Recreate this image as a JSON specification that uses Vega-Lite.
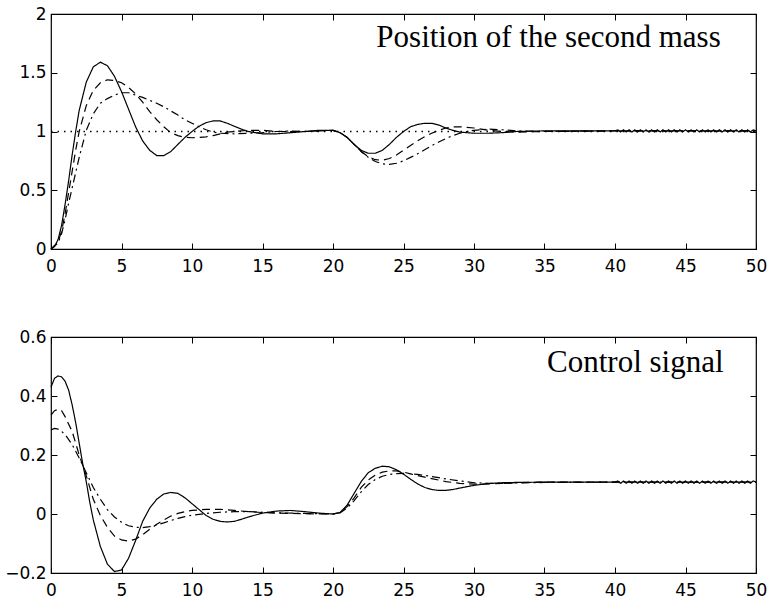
{
  "$schema": "https://vega.github.io/schema/vega-lite/v6.json",
  "autosize": {"type": "pad"},
  "padding": {"left": 4, "top": 4, "right": 3, "bottom": 5},
  "background": "white",
  "spacing": 88,
  "bounds": "flush",
  "config": {
    "view": {"stroke": "black", "strokeWidth": 1.2},
    "axis": {"domain": false, "grid": false, "ticks": true, "tickColor": "black", "tickWidth": 1, "tickSize": -6, "labelFont": "DejaVu Sans", "labelFontSize": 17, "labelColor": "black", "labelFlush": false, "labelOverlap": false},
    "axisX": {"labelPadding": 15},
    "axisY": {"labelPadding": 11},
    "line": {"color": "black", "strokeWidth": 1.2}
  },
  "datasets": {
    "pos": [
      {"t":0,"v":0,"s":"solid"},{"t":0.25,"v":0.02,"s":"solid"},{"t":0.5,"v":0.08,"s":"solid"},{"t":0.75,"v":0.2,"s":"solid"},{"t":1,"v":0.38,"s":"solid"},{"t":1.25,"v":0.58,"s":"solid"},{"t":1.5,"v":0.8,"s":"solid"},{"t":1.75,"v":1.0,"s":"solid"},{"t":2,"v":1.18,"s":"solid"},{"t":2.5,"v":1.42,"s":"solid"},{"t":3,"v":1.55,"s":"solid"},{"t":3.5,"v":1.59,"s":"solid"},{"t":4,"v":1.56,"s":"solid"},{"t":4.5,"v":1.47,"s":"solid"},{"t":5,"v":1.34,"s":"solid"},{"t":5.5,"v":1.19,"s":"solid"},{"t":6,"v":1.04,"s":"solid"},{"t":6.5,"v":0.92,"s":"solid"},{"t":7,"v":0.84,"s":"solid"},{"t":7.5,"v":0.795,"s":"solid"},{"t":8,"v":0.795,"s":"solid"},{"t":8.5,"v":0.83,"s":"solid"},{"t":9,"v":0.89,"s":"solid"},{"t":9.5,"v":0.95,"s":"solid"},{"t":10,"v":1.0,"s":"solid"},{"t":10.5,"v":1.045,"s":"solid"},{"t":11,"v":1.075,"s":"solid"},{"t":11.5,"v":1.09,"s":"solid"},{"t":12,"v":1.09,"s":"solid"},{"t":12.5,"v":1.07,"s":"solid"},{"t":13,"v":1.045,"s":"solid"},{"t":13.5,"v":1.02,"s":"solid"},{"t":14,"v":1.0,"s":"solid"},{"t":14.5,"v":0.99,"s":"solid"},{"t":15,"v":0.98,"s":"solid"},{"t":16,"v":0.98,"s":"solid"},{"t":17,"v":0.99,"s":"solid"},{"t":18,"v":1.0,"s":"solid"},{"t":19,"v":1.01,"s":"solid"},{"t":20,"v":1.01,"s":"solid"},{"t":20.5,"v":0.99,"s":"solid"},{"t":21,"v":0.95,"s":"solid"},{"t":21.5,"v":0.89,"s":"solid"},{"t":22,"v":0.84,"s":"solid"},{"t":22.5,"v":0.815,"s":"solid"},{"t":23,"v":0.815,"s":"solid"},{"t":23.5,"v":0.84,"s":"solid"},{"t":24,"v":0.89,"s":"solid"},{"t":24.5,"v":0.95,"s":"solid"},{"t":25,"v":1.0,"s":"solid"},{"t":25.5,"v":1.04,"s":"solid"},{"t":26,"v":1.06,"s":"solid"},{"t":26.5,"v":1.07,"s":"solid"},{"t":27,"v":1.07,"s":"solid"},{"t":27.5,"v":1.055,"s":"solid"},{"t":28,"v":1.03,"s":"solid"},{"t":28.5,"v":1.01,"s":"solid"},{"t":29,"v":0.995,"s":"solid"},{"t":30,"v":0.985,"s":"solid"},{"t":31,"v":0.985,"s":"solid"},{"t":32,"v":0.99,"s":"solid"},{"t":33,"v":1.0,"s":"solid"},{"t":35,"v":1.005,"s":"solid"},{"t":40,"v":1.005,"s":"solid"},
      {"t":40.2,"v":1.014,"s":"solid"},{"t":40.4,"v":0.996,"s":"solid"},{"t":40.6,"v":1.014,"s":"solid"},{"t":40.8,"v":0.996,"s":"solid"},{"t":41,"v":1.014,"s":"solid"},{"t":41.2,"v":0.996,"s":"solid"},{"t":41.4,"v":1.014,"s":"solid"},{"t":41.6,"v":0.996,"s":"solid"},{"t":41.8,"v":1.014,"s":"solid"},{"t":42,"v":0.996,"s":"solid"},{"t":42.2,"v":1.014,"s":"solid"},{"t":42.4,"v":0.996,"s":"solid"},{"t":42.6,"v":1.014,"s":"solid"},{"t":42.8,"v":0.996,"s":"solid"},{"t":43,"v":1.014,"s":"solid"},{"t":43.2,"v":0.996,"s":"solid"},{"t":43.4,"v":1.014,"s":"solid"},{"t":43.6,"v":0.996,"s":"solid"},{"t":43.8,"v":1.014,"s":"solid"},{"t":44,"v":0.996,"s":"solid"},{"t":44.2,"v":1.014,"s":"solid"},{"t":44.4,"v":0.996,"s":"solid"},{"t":44.6,"v":1.014,"s":"solid"},{"t":44.8,"v":0.996,"s":"solid"},{"t":45,"v":1.014,"s":"solid"},{"t":45.2,"v":0.996,"s":"solid"},{"t":45.4,"v":1.014,"s":"solid"},{"t":45.6,"v":0.996,"s":"solid"},{"t":45.8,"v":1.014,"s":"solid"},{"t":46,"v":0.996,"s":"solid"},{"t":46.2,"v":1.014,"s":"solid"},{"t":46.4,"v":0.996,"s":"solid"},{"t":46.6,"v":1.014,"s":"solid"},{"t":46.8,"v":0.996,"s":"solid"},{"t":47,"v":1.014,"s":"solid"},{"t":47.2,"v":0.996,"s":"solid"},{"t":47.4,"v":1.014,"s":"solid"},{"t":47.6,"v":0.996,"s":"solid"},{"t":47.8,"v":1.014,"s":"solid"},{"t":48,"v":0.996,"s":"solid"},{"t":48.2,"v":1.014,"s":"solid"},{"t":48.4,"v":0.996,"s":"solid"},{"t":48.6,"v":1.014,"s":"solid"},{"t":48.8,"v":0.996,"s":"solid"},{"t":49,"v":1.014,"s":"solid"},{"t":49.2,"v":0.996,"s":"solid"},{"t":49.4,"v":1.014,"s":"solid"},{"t":49.6,"v":0.996,"s":"solid"},{"t":49.8,"v":1.014,"s":"solid"},{"t":50,"v":1.005,"s":"solid"},
      {"t":0,"v":0,"s":"dashed"},{"t":0.5,"v":0.06,"s":"dashed"},{"t":0.75,"v":0.15,"s":"dashed"},{"t":1,"v":0.3,"s":"dashed"},{"t":1.25,"v":0.48,"s":"dashed"},{"t":1.5,"v":0.66,"s":"dashed"},{"t":1.75,"v":0.84,"s":"dashed"},{"t":2,"v":1.0,"s":"dashed"},{"t":2.5,"v":1.22,"s":"dashed"},{"t":3,"v":1.35,"s":"dashed"},{"t":3.5,"v":1.415,"s":"dashed"},{"t":4,"v":1.44,"s":"dashed"},{"t":4.5,"v":1.435,"s":"dashed"},{"t":5,"v":1.415,"s":"dashed"},{"t":5.5,"v":1.375,"s":"dashed"},{"t":6,"v":1.32,"s":"dashed"},{"t":6.5,"v":1.25,"s":"dashed"},{"t":7,"v":1.17,"s":"dashed"},{"t":7.5,"v":1.1,"s":"dashed"},{"t":8,"v":1.04,"s":"dashed"},{"t":8.5,"v":0.99,"s":"dashed"},{"t":9,"v":0.965,"s":"dashed"},{"t":9.5,"v":0.95,"s":"dashed"},{"t":10,"v":0.947,"s":"dashed"},{"t":10.5,"v":0.95,"s":"dashed"},{"t":11,"v":0.955,"s":"dashed"},{"t":11.5,"v":0.965,"s":"dashed"},{"t":12,"v":0.98,"s":"dashed"},{"t":12.5,"v":0.995,"s":"dashed"},{"t":13,"v":1.0,"s":"dashed"},{"t":14,"v":1.01,"s":"dashed"},{"t":15,"v":1.01,"s":"dashed"},{"t":16,"v":1.0,"s":"dashed"},{"t":18,"v":1.0,"s":"dashed"},{"t":20,"v":1.01,"s":"dashed"},{"t":20.5,"v":0.99,"s":"dashed"},{"t":21,"v":0.95,"s":"dashed"},{"t":21.5,"v":0.89,"s":"dashed"},{"t":22,"v":0.83,"s":"dashed"},{"t":22.5,"v":0.785,"s":"dashed"},{"t":23,"v":0.76,"s":"dashed"},{"t":23.5,"v":0.755,"s":"dashed"},{"t":24,"v":0.77,"s":"dashed"},{"t":24.5,"v":0.8,"s":"dashed"},{"t":25,"v":0.84,"s":"dashed"},{"t":25.5,"v":0.88,"s":"dashed"},{"t":26,"v":0.92,"s":"dashed"},{"t":26.5,"v":0.955,"s":"dashed"},{"t":27,"v":0.985,"s":"dashed"},{"t":27.5,"v":1.01,"s":"dashed"},{"t":28,"v":1.03,"s":"dashed"},{"t":28.5,"v":1.04,"s":"dashed"},{"t":29,"v":1.04,"s":"dashed"},{"t":30,"v":1.03,"s":"dashed"},{"t":31,"v":1.01,"s":"dashed"},{"t":32,"v":1.0,"s":"dashed"},{"t":33,"v":0.995,"s":"dashed"},{"t":35,"v":1.0,"s":"dashed"},{"t":40,"v":1.005,"s":"dashed"},{"t":50,"v":1.005,"s":"dashed"},
      {"t":0,"v":0,"s":"dashdot"},{"t":0.5,"v":0.05,"s":"dashdot"},{"t":0.75,"v":0.13,"s":"dashdot"},{"t":1,"v":0.25,"s":"dashdot"},{"t":1.25,"v":0.39,"s":"dashdot"},{"t":1.5,"v":0.52,"s":"dashdot"},{"t":1.75,"v":0.65,"s":"dashdot"},{"t":2,"v":0.78,"s":"dashdot"},{"t":2.5,"v":1.01,"s":"dashdot"},{"t":3,"v":1.15,"s":"dashdot"},{"t":3.5,"v":1.24,"s":"dashdot"},{"t":4,"v":1.28,"s":"dashdot"},{"t":4.5,"v":1.31,"s":"dashdot"},{"t":5,"v":1.33,"s":"dashdot"},{"t":5.5,"v":1.33,"s":"dashdot"},{"t":6,"v":1.31,"s":"dashdot"},{"t":6.5,"v":1.29,"s":"dashdot"},{"t":7,"v":1.265,"s":"dashdot"},{"t":7.5,"v":1.24,"s":"dashdot"},{"t":8,"v":1.21,"s":"dashdot"},{"t":8.5,"v":1.175,"s":"dashdot"},{"t":9,"v":1.14,"s":"dashdot"},{"t":9.5,"v":1.1,"s":"dashdot"},{"t":10,"v":1.07,"s":"dashdot"},{"t":10.5,"v":1.04,"s":"dashdot"},{"t":11,"v":1.015,"s":"dashdot"},{"t":11.5,"v":0.995,"s":"dashdot"},{"t":12,"v":0.985,"s":"dashdot"},{"t":13,"v":0.98,"s":"dashdot"},{"t":14,"v":0.985,"s":"dashdot"},{"t":15,"v":0.99,"s":"dashdot"},{"t":16,"v":1.0,"s":"dashdot"},{"t":17,"v":1.005,"s":"dashdot"},{"t":18,"v":1.0,"s":"dashdot"},{"t":20,"v":1.01,"s":"dashdot"},{"t":20.5,"v":0.99,"s":"dashdot"},{"t":21,"v":0.95,"s":"dashdot"},{"t":21.5,"v":0.89,"s":"dashdot"},{"t":22,"v":0.83,"s":"dashdot"},{"t":22.5,"v":0.78,"s":"dashdot"},{"t":23,"v":0.745,"s":"dashdot"},{"t":23.5,"v":0.725,"s":"dashdot"},{"t":24,"v":0.72,"s":"dashdot"},{"t":24.5,"v":0.73,"s":"dashdot"},{"t":25,"v":0.75,"s":"dashdot"},{"t":25.5,"v":0.78,"s":"dashdot"},{"t":26,"v":0.81,"s":"dashdot"},{"t":26.5,"v":0.845,"s":"dashdot"},{"t":27,"v":0.88,"s":"dashdot"},{"t":27.5,"v":0.91,"s":"dashdot"},{"t":28,"v":0.94,"s":"dashdot"},{"t":28.5,"v":0.965,"s":"dashdot"},{"t":29,"v":0.985,"s":"dashdot"},{"t":29.5,"v":1.0,"s":"dashdot"},{"t":30,"v":1.01,"s":"dashdot"},{"t":31,"v":1.02,"s":"dashdot"},{"t":32,"v":1.015,"s":"dashdot"},{"t":33,"v":1.005,"s":"dashdot"},{"t":35,"v":1.0,"s":"dashdot"},{"t":40,"v":1.005,"s":"dashdot"},{"t":50,"v":1.005,"s":"dashdot"}
    ],
    "ctrl": [
      {"t":0,"v":0.43,"s":"solid"},{"t":0.25,"v":0.46,"s":"solid"},{"t":0.5,"v":0.468,"s":"solid"},{"t":0.75,"v":0.465,"s":"solid"},{"t":1,"v":0.45,"s":"solid"},{"t":1.25,"v":0.42,"s":"solid"},{"t":1.5,"v":0.37,"s":"solid"},{"t":1.75,"v":0.31,"s":"solid"},{"t":2,"v":0.24,"s":"solid"},{"t":2.25,"v":0.17,"s":"solid"},{"t":2.5,"v":0.11,"s":"solid"},{"t":2.75,"v":0.04,"s":"solid"},{"t":3,"v":-0.02,"s":"solid"},{"t":3.5,"v":-0.11,"s":"solid"},{"t":4,"v":-0.17,"s":"solid"},{"t":4.5,"v":-0.195,"s":"solid"},{"t":5,"v":-0.19,"s":"solid"},{"t":5.5,"v":-0.15,"s":"solid"},{"t":6,"v":-0.09,"s":"solid"},{"t":6.5,"v":-0.025,"s":"solid"},{"t":7,"v":0.02,"s":"solid"},{"t":7.5,"v":0.05,"s":"solid"},{"t":8,"v":0.068,"s":"solid"},{"t":8.5,"v":0.073,"s":"solid"},{"t":9,"v":0.07,"s":"solid"},{"t":9.5,"v":0.055,"s":"solid"},{"t":10,"v":0.035,"s":"solid"},{"t":10.5,"v":0.015,"s":"solid"},{"t":11,"v":-0.005,"s":"solid"},{"t":11.5,"v":-0.018,"s":"solid"},{"t":12,"v":-0.025,"s":"solid"},{"t":12.5,"v":-0.027,"s":"solid"},{"t":13,"v":-0.025,"s":"solid"},{"t":13.5,"v":-0.018,"s":"solid"},{"t":14,"v":-0.01,"s":"solid"},{"t":15,"v":0.003,"s":"solid"},{"t":16,"v":0.01,"s":"solid"},{"t":17,"v":0.012,"s":"solid"},{"t":18,"v":0.008,"s":"solid"},{"t":19,"v":0.003,"s":"solid"},{"t":20,"v":0.0,"s":"solid"},{"t":20.5,"v":0.005,"s":"solid"},{"t":21,"v":0.03,"s":"solid"},{"t":21.5,"v":0.07,"s":"solid"},{"t":22,"v":0.11,"s":"solid"},{"t":22.5,"v":0.14,"s":"solid"},{"t":23,"v":0.155,"s":"solid"},{"t":23.5,"v":0.162,"s":"solid"},{"t":24,"v":0.16,"s":"solid"},{"t":24.5,"v":0.15,"s":"solid"},{"t":25,"v":0.135,"s":"solid"},{"t":25.5,"v":0.118,"s":"solid"},{"t":26,"v":0.102,"s":"solid"},{"t":26.5,"v":0.09,"s":"solid"},{"t":27,"v":0.083,"s":"solid"},{"t":27.5,"v":0.08,"s":"solid"},{"t":28,"v":0.08,"s":"solid"},{"t":28.5,"v":0.083,"s":"solid"},{"t":29,"v":0.088,"s":"solid"},{"t":30,"v":0.097,"s":"solid"},{"t":31,"v":0.103,"s":"solid"},{"t":32,"v":0.106,"s":"solid"},{"t":33,"v":0.107,"s":"solid"},{"t":35,"v":0.108,"s":"solid"},{"t":40,"v":0.108,"s":"solid"},
      {"t":40.2,"v":0.112,"s":"solid"},{"t":40.4,"v":0.104,"s":"solid"},{"t":40.6,"v":0.112,"s":"solid"},{"t":40.8,"v":0.104,"s":"solid"},{"t":41,"v":0.112,"s":"solid"},{"t":41.2,"v":0.104,"s":"solid"},{"t":41.4,"v":0.112,"s":"solid"},{"t":41.6,"v":0.104,"s":"solid"},{"t":41.8,"v":0.112,"s":"solid"},{"t":42,"v":0.104,"s":"solid"},{"t":42.2,"v":0.112,"s":"solid"},{"t":42.4,"v":0.104,"s":"solid"},{"t":42.6,"v":0.112,"s":"solid"},{"t":42.8,"v":0.104,"s":"solid"},{"t":43,"v":0.112,"s":"solid"},{"t":43.2,"v":0.104,"s":"solid"},{"t":43.4,"v":0.112,"s":"solid"},{"t":43.6,"v":0.104,"s":"solid"},{"t":43.8,"v":0.112,"s":"solid"},{"t":44,"v":0.104,"s":"solid"},{"t":44.2,"v":0.112,"s":"solid"},{"t":44.4,"v":0.104,"s":"solid"},{"t":44.6,"v":0.112,"s":"solid"},{"t":44.8,"v":0.104,"s":"solid"},{"t":45,"v":0.112,"s":"solid"},{"t":45.2,"v":0.104,"s":"solid"},{"t":45.4,"v":0.112,"s":"solid"},{"t":45.6,"v":0.104,"s":"solid"},{"t":45.8,"v":0.112,"s":"solid"},{"t":46,"v":0.104,"s":"solid"},{"t":46.2,"v":0.112,"s":"solid"},{"t":46.4,"v":0.104,"s":"solid"},{"t":46.6,"v":0.112,"s":"solid"},{"t":46.8,"v":0.104,"s":"solid"},{"t":47,"v":0.112,"s":"solid"},{"t":47.2,"v":0.104,"s":"solid"},{"t":47.4,"v":0.112,"s":"solid"},{"t":47.6,"v":0.104,"s":"solid"},{"t":47.8,"v":0.112,"s":"solid"},{"t":48,"v":0.104,"s":"solid"},{"t":48.2,"v":0.112,"s":"solid"},{"t":48.4,"v":0.104,"s":"solid"},{"t":48.6,"v":0.112,"s":"solid"},{"t":48.8,"v":0.104,"s":"solid"},{"t":49,"v":0.112,"s":"solid"},{"t":49.2,"v":0.104,"s":"solid"},{"t":49.4,"v":0.112,"s":"solid"},{"t":49.6,"v":0.104,"s":"solid"},{"t":49.8,"v":0.112,"s":"solid"},{"t":50,"v":0.108,"s":"solid"},
      {"t":0,"v":0.335,"s":"dashed"},{"t":0.25,"v":0.35,"s":"dashed"},{"t":0.5,"v":0.355,"s":"dashed"},{"t":0.75,"v":0.35,"s":"dashed"},{"t":1,"v":0.33,"s":"dashed"},{"t":1.5,"v":0.28,"s":"dashed"},{"t":2,"v":0.2,"s":"dashed"},{"t":2.5,"v":0.13,"s":"dashed"},{"t":3,"v":0.05,"s":"dashed"},{"t":3.5,"v":-0.005,"s":"dashed"},{"t":4,"v":-0.045,"s":"dashed"},{"t":4.5,"v":-0.075,"s":"dashed"},{"t":5,"v":-0.088,"s":"dashed"},{"t":5.5,"v":-0.092,"s":"dashed"},{"t":6,"v":-0.085,"s":"dashed"},{"t":6.5,"v":-0.07,"s":"dashed"},{"t":7,"v":-0.052,"s":"dashed"},{"t":7.5,"v":-0.035,"s":"dashed"},{"t":8,"v":-0.02,"s":"dashed"},{"t":8.5,"v":-0.007,"s":"dashed"},{"t":9,"v":0.002,"s":"dashed"},{"t":9.5,"v":0.008,"s":"dashed"},{"t":10,"v":0.012,"s":"dashed"},{"t":11,"v":0.016,"s":"dashed"},{"t":12,"v":0.016,"s":"dashed"},{"t":13,"v":0.012,"s":"dashed"},{"t":14,"v":0.008,"s":"dashed"},{"t":15,"v":0.005,"s":"dashed"},{"t":16,"v":0.003,"s":"dashed"},{"t":18,"v":0.001,"s":"dashed"},{"t":20,"v":0.0,"s":"dashed"},{"t":20.5,"v":0.005,"s":"dashed"},{"t":21,"v":0.025,"s":"dashed"},{"t":21.5,"v":0.055,"s":"dashed"},{"t":22,"v":0.09,"s":"dashed"},{"t":22.5,"v":0.115,"s":"dashed"},{"t":23,"v":0.132,"s":"dashed"},{"t":23.5,"v":0.142,"s":"dashed"},{"t":24,"v":0.146,"s":"dashed"},{"t":24.5,"v":0.146,"s":"dashed"},{"t":25,"v":0.142,"s":"dashed"},{"t":25.5,"v":0.136,"s":"dashed"},{"t":26,"v":0.13,"s":"dashed"},{"t":26.5,"v":0.125,"s":"dashed"},{"t":27,"v":0.12,"s":"dashed"},{"t":27.5,"v":0.115,"s":"dashed"},{"t":28,"v":0.11,"s":"dashed"},{"t":29,"v":0.104,"s":"dashed"},{"t":30,"v":0.101,"s":"dashed"},{"t":31,"v":0.102,"s":"dashed"},{"t":32,"v":0.104,"s":"dashed"},{"t":33,"v":0.106,"s":"dashed"},{"t":35,"v":0.108,"s":"dashed"},{"t":40,"v":0.108,"s":"dashed"},{"t":50,"v":0.108,"s":"dashed"},
      {"t":0,"v":0.285,"s":"dashdot"},{"t":0.25,"v":0.29,"s":"dashdot"},{"t":0.5,"v":0.288,"s":"dashdot"},{"t":0.75,"v":0.28,"s":"dashdot"},{"t":1,"v":0.27,"s":"dashdot"},{"t":1.5,"v":0.235,"s":"dashdot"},{"t":2,"v":0.19,"s":"dashdot"},{"t":2.5,"v":0.14,"s":"dashdot"},{"t":3,"v":0.09,"s":"dashdot"},{"t":3.5,"v":0.05,"s":"dashdot"},{"t":4,"v":0.015,"s":"dashdot"},{"t":4.5,"v":-0.01,"s":"dashdot"},{"t":5,"v":-0.028,"s":"dashdot"},{"t":5.5,"v":-0.04,"s":"dashdot"},{"t":6,"v":-0.045,"s":"dashdot"},{"t":6.5,"v":-0.046,"s":"dashdot"},{"t":7,"v":-0.043,"s":"dashdot"},{"t":7.5,"v":-0.037,"s":"dashdot"},{"t":8,"v":-0.03,"s":"dashdot"},{"t":8.5,"v":-0.022,"s":"dashdot"},{"t":9,"v":-0.015,"s":"dashdot"},{"t":9.5,"v":-0.009,"s":"dashdot"},{"t":10,"v":-0.004,"s":"dashdot"},{"t":11,"v":0.002,"s":"dashdot"},{"t":12,"v":0.006,"s":"dashdot"},{"t":13,"v":0.008,"s":"dashdot"},{"t":14,"v":0.008,"s":"dashdot"},{"t":15,"v":0.006,"s":"dashdot"},{"t":16,"v":0.004,"s":"dashdot"},{"t":18,"v":0.002,"s":"dashdot"},{"t":20,"v":0.0,"s":"dashdot"},{"t":20.5,"v":0.004,"s":"dashdot"},{"t":21,"v":0.02,"s":"dashdot"},{"t":21.5,"v":0.045,"s":"dashdot"},{"t":22,"v":0.075,"s":"dashdot"},{"t":22.5,"v":0.1,"s":"dashdot"},{"t":23,"v":0.117,"s":"dashdot"},{"t":23.5,"v":0.128,"s":"dashdot"},{"t":24,"v":0.134,"s":"dashdot"},{"t":24.5,"v":0.137,"s":"dashdot"},{"t":25,"v":0.138,"s":"dashdot"},{"t":25.5,"v":0.137,"s":"dashdot"},{"t":26,"v":0.134,"s":"dashdot"},{"t":26.5,"v":0.131,"s":"dashdot"},{"t":27,"v":0.127,"s":"dashdot"},{"t":27.5,"v":0.123,"s":"dashdot"},{"t":28,"v":0.119,"s":"dashdot"},{"t":29,"v":0.112,"s":"dashdot"},{"t":30,"v":0.106,"s":"dashdot"},{"t":31,"v":0.104,"s":"dashdot"},{"t":32,"v":0.104,"s":"dashdot"},{"t":33,"v":0.105,"s":"dashdot"},{"t":35,"v":0.107,"s":"dashdot"},{"t":40,"v":0.108,"s":"dashdot"},{"t":50,"v":0.108,"s":"dashdot"}
    ],
    "ref": [{"t":0,"v":1},{"t":50,"v":1}],
    "note1": [{"label":"Position of the second mass"}],
    "note2": [{"label":"Control signal"}]
  },
  "vconcat": [
    {
      "width": 705,
      "height": 235,
      "resolve": {"axis": {"x": "independent", "y": "independent"}},
      "layer": [
        {
          "data": {"name": "ref"},
          "mark": {"type": "line", "strokeDash": [1.5, 5], "strokeWidth": 1.3, "color": "black"},
          "encoding": {
            "x": {"field": "t", "type": "quantitative", "scale": {"domain": [0, 50], "nice": false, "zero": false}, "axis": null},
            "y": {"field": "v", "type": "quantitative", "scale": {"domain": [0, 2], "nice": false, "zero": false}, "axis": null}
          }
        },
        {
          "data": {"name": "pos"},
          "mark": {"type": "line", "color": "black", "strokeWidth": 1.2},
          "encoding": {
            "x": {"field": "t", "type": "quantitative", "title": null, "axis": {"orient": "bottom", "values": [0,5,10,15,20,25,30,35,40,45,50]}},
            "y": {"field": "v", "type": "quantitative", "title": null, "axis": {"orient": "left", "values": [0,0.5,1,1.5,2], "format": "~g"}},
            "strokeDash": {"field": "s", "type": "nominal", "scale": {"domain": ["solid","dashed","dashdot"], "range": [[1,0],[8,5],[8,4,2,4]]}, "legend": null}
          }
        },
        {
          "data": {"name": "note1"},
          "mark": {"type": "text", "font": "Liberation Serif", "fontSize": 31, "align": "right", "baseline": "alphabetic", "color": "black"},
          "encoding": {
            "x": {"datum": 47.5, "type": "quantitative", "title": null, "axis": {"orient": "top", "labels": false, "values": [0,5,10,15,20,25,30,35,40,45,50]}},
            "y": {"datum": 1.72, "type": "quantitative", "title": null, "axis": {"orient": "right", "labels": false, "values": [0,0.5,1,1.5,2]}},
            "text": {"field": "label"}
          }
        }
      ]
    },
    {
      "width": 705,
      "height": 236,
      "resolve": {"axis": {"x": "independent", "y": "independent"}},
      "layer": [
        {
          "data": {"name": "ctrl"},
          "mark": {"type": "line", "color": "black", "strokeWidth": 1.2},
          "encoding": {
            "x": {"field": "t", "type": "quantitative", "title": null, "scale": {"domain": [0, 50], "nice": false, "zero": false}, "axis": {"orient": "bottom", "values": [0,5,10,15,20,25,30,35,40,45,50]}},
            "y": {"field": "v", "type": "quantitative", "title": null, "scale": {"domain": [-0.2, 0.6], "nice": false, "zero": false}, "axis": {"orient": "left", "values": [-0.2,0,0.2,0.4,0.6], "format": "~g"}},
            "strokeDash": {"field": "s", "type": "nominal", "scale": {"domain": ["solid","dashed","dashdot"], "range": [[1,0],[8,5],[8,4,2,4]]}, "legend": null}
          }
        },
        {
          "data": {"name": "note2"},
          "mark": {"type": "text", "font": "Liberation Serif", "fontSize": 31, "align": "right", "baseline": "alphabetic", "color": "black"},
          "encoding": {
            "x": {"datum": 47.7, "type": "quantitative", "title": null, "axis": {"orient": "top", "labels": false, "values": [0,5,10,15,20,25,30,35,40,45,50]}},
            "y": {"datum": 0.481, "type": "quantitative", "title": null, "axis": {"orient": "right", "labels": false, "values": [-0.2,0,0.2,0.4,0.6]}},
            "text": {"field": "label"}
          }
        }
      ]
    }
  ]
}
